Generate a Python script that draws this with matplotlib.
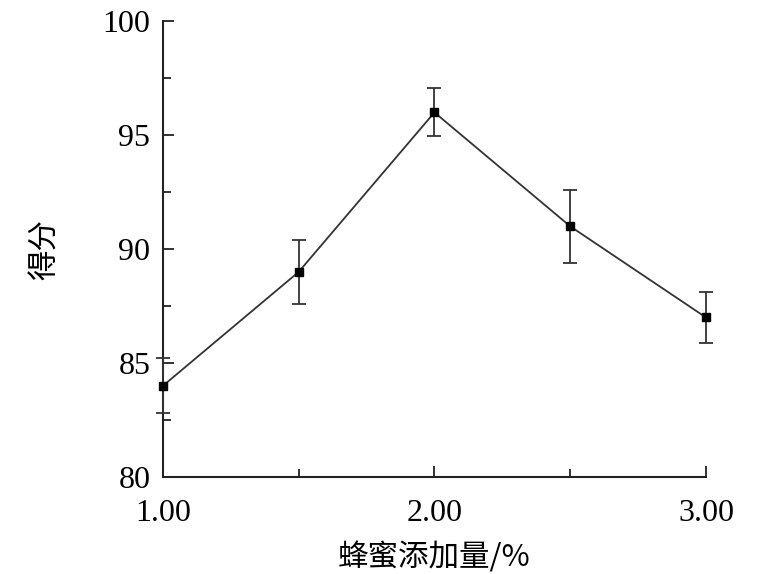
import matplotlib
matplotlib.use('Agg')
import matplotlib.pyplot as plt
from matplotlib.ticker import MultipleLocator, FixedLocator

# 蜂蜜添加量 vs 感官评分
honey = [1.0, 1.5, 2.0, 2.5, 3.0]
score = [84.0, 89.0, 96.0, 91.0, 87.0]
err = [1.2, 1.4, 1.05, 1.6, 1.1]
xticks = [1.0, 2.0, 3.0]
xtick_labels = ['1.00', '2.00', '3.00']

serif = ['Liberation Serif', 'DejaVu Serif']
cjk = ['Noto Sans CJK SC', 'DejaVu Sans']

fig = plt.figure(figsize=(7.72, 5.74), dpi=100)
ax = fig.add_axes([0.211, 0.169, 0.7035, 0.794])

ax.errorbar(honey, score, yerr=err, color='#333333', lw=1.3,
            marker='s', ms=6, mfc='black', mec='black',
            ecolor='#333333', elinewidth=1.3, capsize=5, capthick=1.3,
            clip_on=False, zorder=3)

ax.set_xlim(1.0, 3.0)
ax.set_ylim(80, 100)
for s in ['top', 'right']:
    ax.spines[s].set_visible(False)
for s in ['left', 'bottom']:
    ax.spines[s].set_linewidth(1.5)
    ax.spines[s].set_color('#222222')

ax.xaxis.set_major_locator(FixedLocator(xticks))
ax.set_xticklabels(xtick_labels, fontfamily=serif, fontsize=23)
ax.xaxis.set_minor_locator(FixedLocator([1.5, 2.5]))
ax.yaxis.set_major_locator(MultipleLocator(5))
ax.yaxis.set_minor_locator(MultipleLocator(2.5))
for lbl in ax.get_yticklabels():
    lbl.set_fontfamily(serif)
    lbl.set_fontsize(23)

ax.tick_params(which='both', direction='in', color='#222222', width=1.3)
ax.tick_params(which='major', length=8)
ax.tick_params(which='minor', length=6)
ax.tick_params(axis='y', pad=9)
ax.tick_params(axis='x', pad=16)

ax.set_xlabel('蜂蜜添加量/%', fontfamily=cjk, fontsize=22, labelpad=10)
ax.set_ylabel('得分', fontfamily=cjk, fontsize=22, labelpad=30)

fig.savefig('out.png', dpi=100)
